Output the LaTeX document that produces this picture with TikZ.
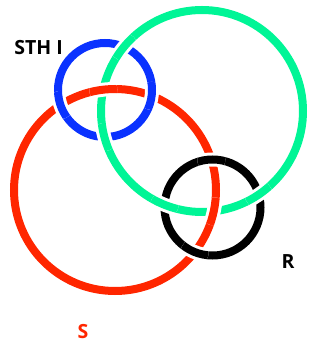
\documentclass[tikz,border=0pt]{standalone}
\usepackage{fontspec}
\setsansfont{Open Sans}
\definecolor{ringblue}{HTML}{0A32FF}
\definecolor{ringgreen}{HTML}{00F596}
\definecolor{ringred}{HTML}{FF2600}

\tikzset{
    ring/.style={line width=8pt},
    halo/.style={white, line width=14pt},
    ringlabel/.style={font=\sffamily\bfseries\fontsize{19.5}{24}\selectfont, inner sep=0pt}
}

% one ring passing over another: #1 crossing point, #2 centre, #3 radius, #4 colour
\newcommand{\ringover}[4]{%
    \begin{scope}
        \clip #1 circle (14pt);
        \draw[halo] #2 circle (#3);
        \draw[ring, #4] #2 circle (#3);
    \end{scope}%
}

\begin{document}
\begin{tikzpicture}[x=1pt, y=1pt]
    \useasboundingbox (0,0) rectangle (325,345);

% Rings
    % STH I
    \draw[ring, ringblue] (105,255) circle (47pt);
    % big green ring
    \draw[ring, ringgreen] (202,234) circle (101pt);
    % S
    \draw[ring, ringred] (115,155) circle (101pt);
    % R
    \draw[ring, black] (212.5,137.5) circle (48pt);

% Crossings
    % green over blue
    \ringover{(123.9,298.0)}{(202,234)}{101pt}{ringgreen}
    \ringover{(104.4,208.0)}{(202,234)}{101pt}{ringgreen}
    % red over green
    \ringover{(103.3,255.3)}{(115,155)}{101pt}{ringred}
    \ringover{(213.7,133.7)}{(115,155)}{101pt}{ringred}
    % blue over red
    \ringover{(60.5,240.0)}{(105,255)}{47pt}{ringblue}
    \ringover{(151.6,249.1)}{(105,255)}{47pt}{ringblue}
    % black over red
    \ringover{(211.3,185.5)}{(212.5,137.5)}{48pt}{black}
    \ringover{(194.7,92.9)}{(212.5,137.5)}{48pt}{black}
    % green over black
    \ringover{(164.5,140.2)}{(202,234)}{101pt}{ringgreen}
    \ringover{(258.7,150.4)}{(202,234)}{101pt}{ringgreen}

% Labels
    \node[ringlabel] (sthi) at (38.5,297) {STH I};
    \node[ringlabel] (r) at (288,83) {R};
    \node[ringlabel, ringred] (s) at (83,13) {S};

\end{tikzpicture}
\end{document}
